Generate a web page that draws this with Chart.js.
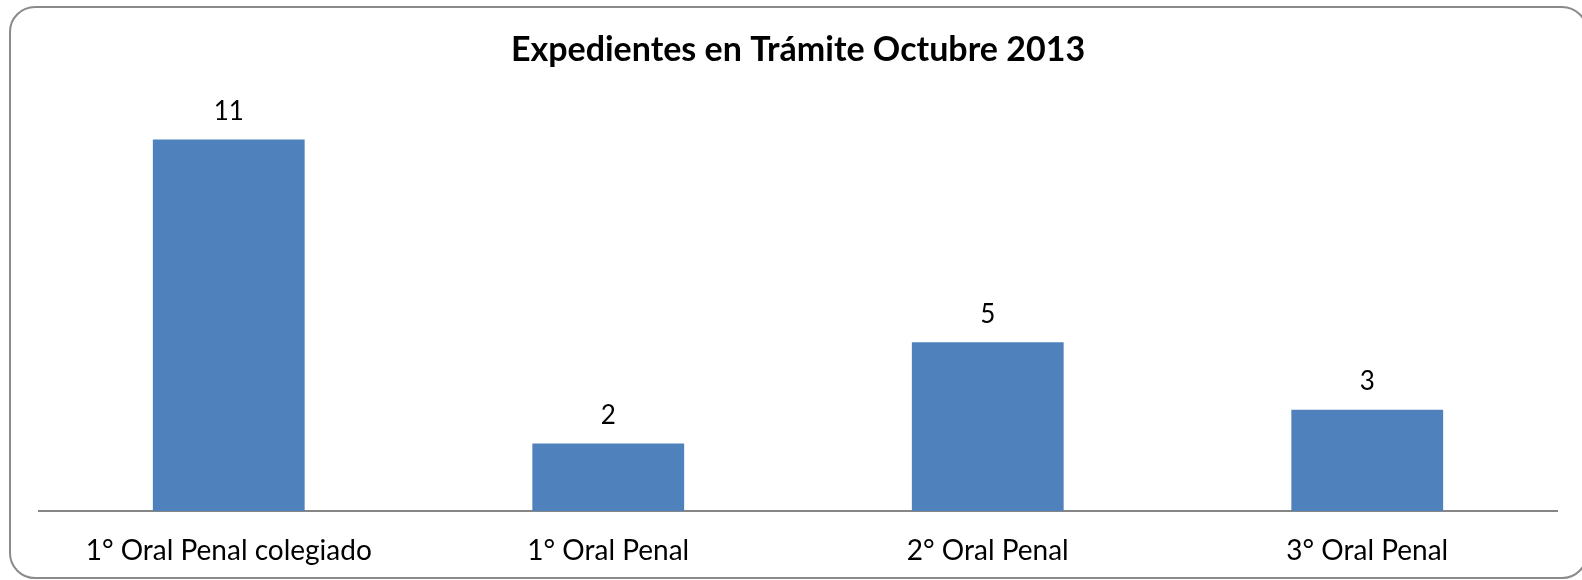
<!DOCTYPE html>
<html>
<head>
<meta charset="utf-8">
<script src="https://cdn.jsdelivr.net/npm/chart.js@4/dist/chart.umd.min.js"></script>
<style>
  html, body { margin: 0; padding: 0; background: #fff; overflow: hidden; }
  #wrap { position: relative; width: 1582px; height: 580px; overflow: hidden; }
  #frame {
    position: absolute; left: 9px; top: 6px; width: 1579px; height: 573px;
    border: 2px solid #8a8a8a; border-radius: 26px; box-sizing: border-box;
  }
  canvas { position: absolute; left: 0; top: 0; }
</style>
</head>
<body>
<div id="wrap">
  <div id="frame"></div>
  <canvas id="myChart" width="1582" height="580"></canvas>
</div>
<script>
  // categorias y valores
  const categories = ["1° Oral Penal colegiado", "1° Oral Penal", "2° Oral Penal", "3° Oral Penal"];
  const values = [11, 2, 5, 3];
  const titleText = "Expedientes en Trámite Octubre 2013";

  const fontFamily = "Lato, 'Open Sans', sans-serif";

  // etiquetas de valor encima de las barras
  const valueLabels = {
    id: "valueLabels",
    afterDatasetsDraw(chart) {
      const ctx = chart.ctx;
      const meta = chart.getDatasetMeta(0);
      ctx.save();
      ctx.font = "26px " + fontFamily;
      ctx.fillStyle = "#000";
      ctx.textAlign = "center";
      ctx.textBaseline = "middle";
      meta.data.forEach((bar, i) => {
        ctx.fillText(String(values[i]), bar.x, bar.y - 28);
      });
      ctx.restore();
    },
  };

  const config = {
    type: "bar",
    data: {
      labels: categories,
      datasets: [
        {
          data: values,
          backgroundColor: "#4f81bd",
          borderWidth: 0,
          barPercentage: 0.4,
          categoryPercentage: 1,
        },
      ],
    },
    options: {
      responsive: false,
      animation: false,
      layout: {
        padding: { left: 39, right: 25, top: 0, bottom: 0 },
      },
      plugins: {
        legend: { display: false },
        tooltip: { enabled: false },
        title: {
          display: true,
          text: titleText,
          color: "#000",
          font: { family: fontFamily, size: 34, weight: "bold", lineHeight: 1.2 },
          padding: { top: 30, bottom: 35 },
        },
      },
      scales: {
        x: {
          grid: { display: false, drawTicks: false },
          border: { display: true, color: "#868686", width: 2 },
          ticks: {
            color: "#000",
            font: { family: fontFamily, size: 28, lineHeight: 1.2 },
            padding: 23,
            maxRotation: 0,
          },
          afterFit(scale) {
            scale.height = 69;
          },
        },
        y: {
          display: false,
          min: 0,
          max: 12,
        },
      },
    },
    plugins: [valueLabels],
  };

  const myChart = new Chart(document.getElementById("myChart"), config);
</script>
</body>
</html>
